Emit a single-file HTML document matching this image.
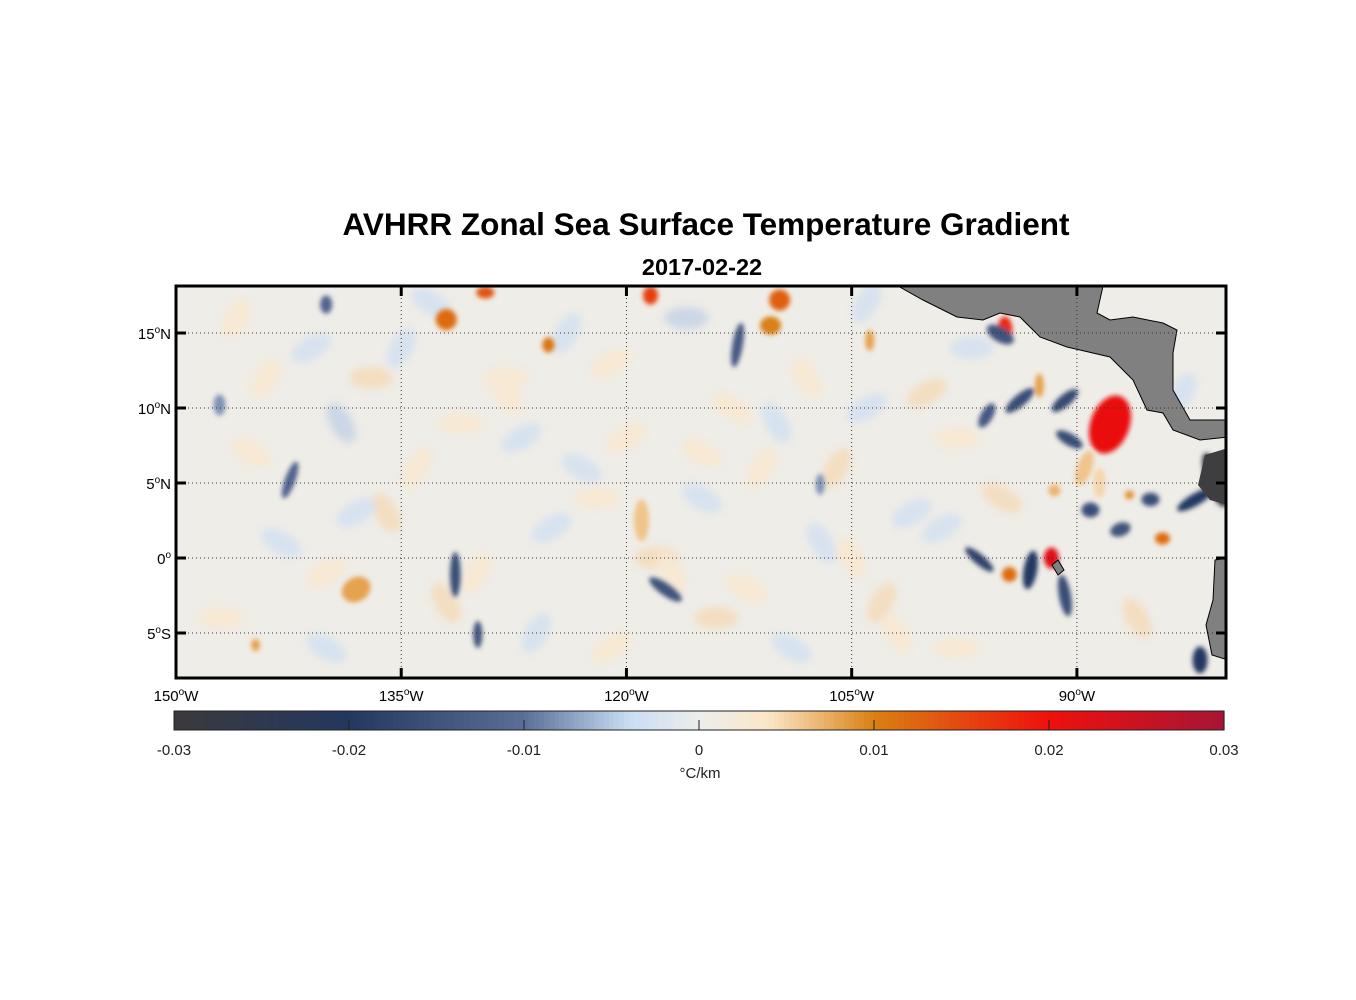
<!DOCTYPE html>
<html><head><meta charset="utf-8"><style>
body{margin:0;background:#fff;}
svg{display:block;font-family:"Liberation Sans",Arial,sans-serif;}
</style></head><body>
<svg id="c" width="1356" height="1000" viewBox="0 0 1356 1000">
<defs>
<clipPath id="clip"><rect x="176" y="286" width="1050" height="392"/></clipPath>
<filter id="blur" x="-50%" y="-50%" width="200%" height="200%"><feGaussianBlur stdDeviation="2.5"/></filter>
<filter id="blur2" x="-50%" y="-50%" width="200%" height="200%"><feGaussianBlur stdDeviation="4"/></filter>
</defs>
<text x="706" y="235" text-anchor="middle" font-size="31.5" font-weight="bold">AVHRR Zonal Sea Surface Temperature Gradient</text>
<text x="702" y="275" text-anchor="middle" font-size="23.5" font-weight="bold">2017-02-22</text>
<g id="map" clip-path="url(#clip)"></g>
<g id="land" clip-path="url(#clip)"></g>
<g id="grid"></g>
<rect x="176" y="286" width="1050" height="392" fill="none" stroke="#000" stroke-width="3"/>
<g id="axes"></g>
<g id="cbar"></g>
</svg>
<script>
const NS="http://www.w3.org/2000/svg";
// strong features: longitude, latitude, gradient value, spread (deg)
const featLon=[-87.8,-91.7,-94.8,-118.4,-109.8,-129.4,-132,-125.2,-110.4,-112.6,-131.4,-117.4,-129.9,-142.4,-140,-96.5,-93.1,-90.8,-80.8,-82.1,-85.1,-89.1,-87.1,-93.8,-90.8,-90.5,-95.1,-81.8,-94.5,-138,-144.7,-119,-103.8,-107.1,-147.1,-84.3,-86.5,-91.5,-92.5,-96,-89.5,-88.5];
const featLat=[8.9,0,15.2,17.5,17.2,17.7,15.9,14.2,15.5,14.2,-1.1,-2.1,-5.1,5.2,16.9,-0.1,-0.8,-2.5,5.2,3.9,3.9,3.2,1.9,10.5,10.5,7.9,14.9,-6.8,-1.1,-2.1,-5.8,2.5,14.5,4.9,10.2,1.3,4.2,4.5,11.5,9.5,6,5];
const featVal=[0.021,0.022,0.018,0.016,0.013,0.014,0.012,0.011,0.01,-0.014,-0.016,-0.015,-0.015,-0.012,-0.012,-0.018,-0.02,-0.016,-0.028,-0.02,-0.016,-0.016,-0.015,-0.016,-0.017,-0.016,-0.015,-0.02,0.012,0.008,0.008,0.006,0.008,-0.008,-0.008,0.012,0.009,0.007,0.008,-0.014,0.006,0.005];
const featRx=[1.3,0.5,0.5,0.5,0.7,0.6,0.7,0.4,0.7,0.35,0.35,1.3,0.3,0.35,0.4,1.2,0.45,0.4,0.6,1.4,0.6,0.6,0.7,1.2,1.1,1.0,1.0,0.5,0.5,1.0,0.3,0.5,0.3,0.3,0.4,0.5,0.3,0.4,0.3,0.4,0.5,0.4];
const featRy=[2.0,0.7,0.9,0.6,0.7,0.4,0.7,0.5,0.6,1.5,1.5,0.4,0.9,1.3,0.6,0.35,1.3,1.4,1.9,0.4,0.45,0.5,0.45,0.4,0.4,0.4,0.5,0.9,0.5,0.8,0.4,1.4,0.7,0.7,0.7,0.4,0.3,0.4,0.8,0.9,1.2,1.0];
const featRot=[20,0,0,0,0,0,0,0,0,10,0,35,0,20,0,40,10,-10,-20,-30,0,0,-20,-40,-40,30,30,0,0,-30,0,0,0,0,0,0,0,0,0,30,20,0];
// faint background texture features
const faintLon=[-146,-141,-137,-133,-128,-124,-121,-116,-113,-108,-104,-100,-97,-145,-139,-134,-127,-122,-115,-110,-106,-101,-98,-143,-136,-130,-125,-118,-112,-107,-103,-99,-147,-140,-132,-126,-121,-114,-109,-102,-144,-138,-131,-123,-117,-111,-104,-98,-95,-86,-83,-140,-128,-115,-105,-135,-120];
const faintLat=[16,14,12,17,11,15,13,16,10,12,17,11,14,7,9,6,8,4,7,9,6,3,8,1,3,-1,2,0,-2,1,-3,2,-4,-6,-3,-5,-6,-4,-6,-5,12,3,9,6,-1,6,10,-6,4,-4,11,-1,12,4,0,14,8];
const faintVal=[0.004,-0.004,0.005,-0.004,0.004,-0.004,0.004,-0.005,0.004,0.004,-0.004,0.005,-0.004,0.004,-0.005,0.004,-0.004,0.004,0.004,-0.004,0.005,-0.004,0.004,-0.004,0.005,0.004,-0.004,0.005,0.004,-0.004,0.005,-0.004,0.004,-0.004,0.005,-0.004,0.004,0.005,-0.004,0.004,0.004,-0.004,0.004,-0.004,0.004,0.004,-0.004,0.004,0.005,0.005,-0.004,0.004,0.004,-0.004,0.004,-0.004,0.004];

const lonTicks=[-150,-135,-120,-105,-90];
const latTicks=[15,10,5,0,-5];
const cbTicks=[-0.03,-0.02,-0.01,0,0.01,0.02,0.03];
const cmStops=[-0.03,-0.02,-0.01,-0.004,0,0.004,0.01,0.02,0.03];
const cmCols=["#3a3a3c","#233760","#5a6e98","#c9ddf3","#eceeec","#fce6c8","#d98012","#f0100c","#a51535"];

const X=lon=>176+(lon+150)*1050/69.93;
const Y=lat=>558-lat*15;
function hex(h){return [1,3,5].map(i=>parseInt(h.substr(i,2),16));}
function cmap(v){
  v=Math.max(-0.03,Math.min(0.03,v));
  for(let i=0;i<cmStops.length-1;i++){
    if(v<=cmStops[i+1]){const t=(v-cmStops[i])/(cmStops[i+1]-cmStops[i]);const a=hex(cmCols[i]),b=hex(cmCols[i+1]);
      return "rgb("+a.map((c,k)=>Math.round(c+(b[k]-c)*t)).join(",")+")";}
  }
  return cmCols[cmCols.length-1];
}
function el(tag,attrs,parent){const e=document.createElementNS(NS,tag);for(const k in attrs)e.setAttribute(k,attrs[k]);parent.appendChild(e);return e;}

const map=document.getElementById('map');
const bg=el('rect',{x:176,y:286,width:1050,height:392,fill:"#efede8"},map);


const fb=el('g',{filter:"url(#blur2)",opacity:0.65},map);
for(let i=0;i<faintLon.length;i++){
  const cx=X(faintLon[i]),cy=Y(faintLat[i]);
  const e=el('ellipse',{cx:cx,cy:cy,rx:22,ry:11,fill:cmap(faintVal[i]),transform:`rotate(${(i%5)*30-60} ${cx} ${cy})`},fb);
  
  
}
const fg=el('g',{filter:"url(#blur)"},map);
for(let i=0;i<featLon.length;i++){
  const cx=X(featLon[i]),cy=Y(featLat[i]);
  const e=el('ellipse',{cx:cx,cy:cy,rx:featRx[i]*15,ry:featRy[i]*15,fill:cmap(featVal[i]),transform:`rotate(${featRot[i]} ${cx} ${cy})`},fg);
  
  
}
// land
const land=document.getElementById('land');
const ca="898,286 923,300 957,317 983,320 1000,313 1020,317 1040,337 1067,347 1080,350 1110,357 1133,380 1147,410 1163,413 1173,430 1200,440 1228,437 1228,420 1190,420 1173,390 1173,353 1177,330 1163,323 1133,317 1110,320 1097,313 1103,286";
const p1=el('polygon',{points:ca,fill:"#808080",stroke:"#000","stroke-width":1},land);


const p2=el('polygon',{points:"1205,455 1228,448 1228,505 1210,500 1198,485",fill:"#3e3e40"},land);


const p3=el('polygon',{points:"1215,560 1228,558 1228,660 1212,655 1206,625 1213,600",fill:"#808080",stroke:"#000","stroke-width":1},land);


const p4=el('polygon',{points:"1052,565 1058,560 1064,570 1058,575",fill:"#808080",stroke:"#000","stroke-width":1},land);



// grid & axes
const grid=document.getElementById('grid'),axes=document.getElementById('axes');
lonTicks.forEach(l=>{
  const x=X(l);
  if(l>-150){const g=el('line',{x1:x,x2:x,y1:286,y2:678,stroke:"#333","stroke-width":1,"stroke-dasharray":"1,3"},grid);
  
  el('line',{x1:x,x2:x,y1:286,y2:296,stroke:"#000","stroke-width":3},axes);
  el('line',{x1:x,x2:x,y1:668,y2:678,stroke:"#000","stroke-width":3},axes);}
  const t=el('text',{x:x,y:701,"text-anchor":"middle","font-size":15},axes);
  
  t.innerHTML=Math.abs(l)+'<tspan dy="-6" font-size="10">o</tspan><tspan dy="6">W</tspan>';
});
latTicks.forEach(l=>{
  const y=Y(l);
  const g=el('line',{x1:176,x2:1226,y1:y,y2:y,stroke:"#333","stroke-width":1,"stroke-dasharray":"1,3"},grid);
  
  el('line',{x1:176,x2:186,y1:y,y2:y,stroke:"#000","stroke-width":3},axes);
  el('line',{x1:1216,x2:1226,y1:y,y2:y,stroke:"#000","stroke-width":3},axes);
  const t=el('text',{x:171,y:y+6,"text-anchor":"end","font-size":15},axes);
  
  const h=l>0?'N':(l<0?'S':'');
  t.innerHTML=Math.abs(l)+'<tspan dy="-6" font-size="10">o</tspan><tspan dy="6">'+h+'</tspan>';
});
// colorbar
const cb=document.getElementById('cbar');
const CX=v=>174+(v+0.03)/0.06*1050;
for(let i=0;i<210;i++){
  const v=-0.03+(i+0.5)*0.06/210;
  el('rect',{x:174+i*5,y:711,width:5.6,height:19,fill:cmap(v)},cb);
}
el('rect',{x:174,y:711,width:1050,height:19,fill:"none",stroke:"#222","stroke-width":1},cb);
cbTicks.forEach(v=>{
  const x=CX(v);
  el('line',{x1:x,x2:x,y1:720,y2:730,stroke:"#222","stroke-width":1},cb);
  const t=el('text',{x:x,y:755,"text-anchor":"middle","font-size":15,fill:"#222"},cb);
  
  t.textContent=v===0?'0':v.toFixed(2);
});
const u=el('text',{x:700,y:778,"text-anchor":"middle","font-size":15,fill:"#222"},cb);

u.textContent='°C/km';
</script>
</body></html>
